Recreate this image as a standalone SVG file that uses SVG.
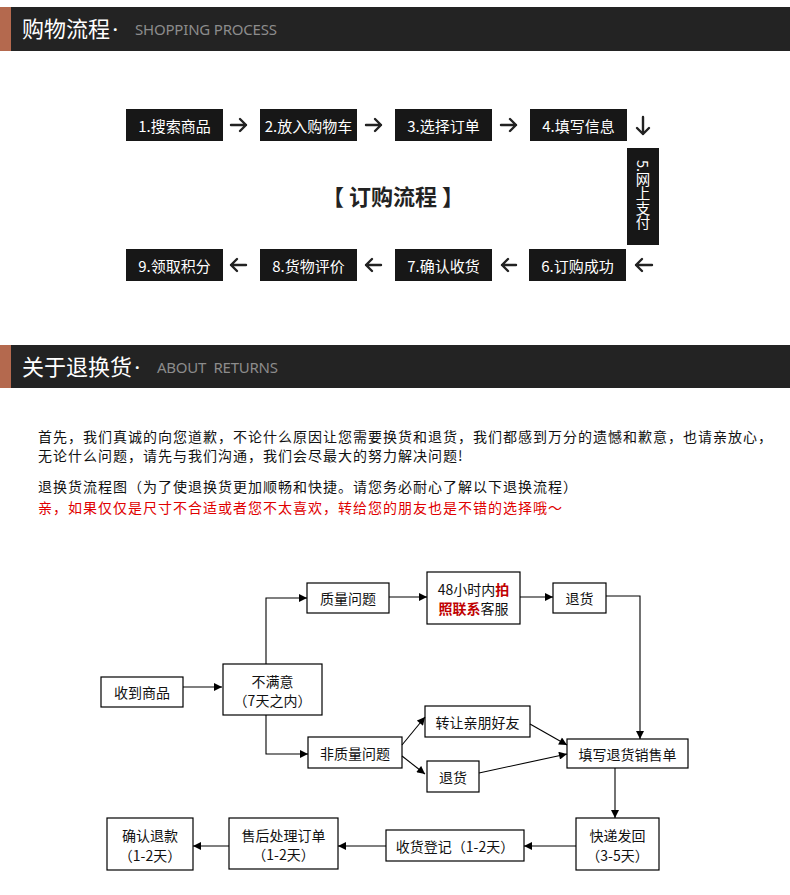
<svg xmlns="http://www.w3.org/2000/svg" width="790" height="895" viewBox="0 0 790 895">
<defs>
<marker id="ah" viewBox="0 0 10 10" refX="10" refY="5" markerWidth="9" markerHeight="8" markerUnits="userSpaceOnUse" orient="auto"><path d="M0,0 L10,5 L0,10 z" fill="#000"/></marker>
<style>
.cn{font-family:"Noto Sans CJK SC","Noto Sans",sans-serif}
.hbar{fill:#232323}
.acc{fill:#b4694e}
.htitle{font-family:"Noto Sans CJK SC","Noto Sans",sans-serif;font-size:22px;fill:#fff}
.dot{font-family:"Noto Sans",sans-serif;font-size:16px;font-weight:bold}
.hen{font-family:"Noto Sans","Noto Sans CJK SC",sans-serif;font-size:15px;fill:#8c8c8c}
.dbox{fill:#171717}
.dtxt{font-family:"Noto Sans CJK SC","Noto Sans",sans-serif;font-size:15px;fill:#fff;text-anchor:middle;dominant-baseline:central}
.vtxt{font-family:"Noto Sans CJK SC","Noto Sans",sans-serif;font-size:14.5px;fill:#fff;text-anchor:middle;writing-mode:vertical-rl}
.sarr{fill:none;stroke:#222;stroke-width:2.4;stroke-linecap:round;stroke-linejoin:round}
.para{font-family:"Noto Sans CJK SC","Noto Sans",sans-serif;font-size:14px;letter-spacing:1px;fill:#111}
.red{fill:#e00000}
.wbox{fill:#fff;stroke:#000;stroke-width:1.2}
.ftxt{font-family:"Noto Sans CJK SC","Noto Sans",sans-serif;font-size:14px;fill:#111;text-anchor:middle;dominant-baseline:central}
.hl{fill:#c00000;font-weight:bold}
.con{fill:none;stroke:#000;stroke-width:1.1}
</style>
</defs>
<rect width="790" height="895" fill="#fff"/>

<g id="header-shopping">
<rect class="hbar" x="0" y="7" width="790" height="44"/>
<rect class="acc" x="0" y="7" width="11" height="44"/>
<text class="htitle" x="22" y="37">购物流程<tspan class="dot" dx="3" dy="-2">·</tspan></text>
<text class="hen" x="135" y="35" textLength="142">SHOPPING PROCESS</text>
</g>

<g id="step1"><rect class="dbox" x="126" y="109" width="97" height="32"/><text class="dtxt" x="174.5" y="125">1.搜索商品</text></g>
<g id="step2"><rect class="dbox" x="260" y="109" width="97" height="32"/><text class="dtxt" x="308.5" y="125">2.放入购物车</text></g>
<g id="step3"><rect class="dbox" x="395" y="109" width="97" height="32"/><text class="dtxt" x="443.5" y="125">3.选择订单</text></g>
<g id="step4"><rect class="dbox" x="530" y="109" width="97" height="32"/><text class="dtxt" x="578.5" y="125">4.填写信息</text></g>
<g id="step5"><rect class="dbox" x="627" y="148" width="32" height="97"/>
<text class="vtxt" x="643" y="195">5.网上支付</text>
</g>
<g id="step6"><rect class="dbox" x="529" y="249" width="97" height="32"/><text class="dtxt" x="577.5" y="265">6.订购成功</text></g>
<g id="step7"><rect class="dbox" x="395" y="249" width="97" height="32"/><text class="dtxt" x="443.5" y="265">7.确认收货</text></g>
<g id="step8"><rect class="dbox" x="260" y="249" width="97" height="32"/><text class="dtxt" x="308.5" y="265">8.货物评价</text></g>
<g id="step9"><rect class="dbox" x="126" y="249" width="97" height="32"/><text class="dtxt" x="174.5" y="265">9.领取积分</text></g>
<g id="order-title"><text class="cn" x="393" y="205" text-anchor="middle" font-size="22" font-weight="bold" fill="#222">【 订购流程 】</text></g>

<g id="order-connectors">
<path class="sarr" d="M231,125 H246 M240,119 L246,125 L240,131"/>
<path class="sarr" d="M366,125 H381 M375,119 L381,125 L375,131"/>
<path class="sarr" d="M501,125 H516 M510,119 L516,125 L510,131"/>
<path class="sarr" d="M643,117 V134 M637,128 L643,134 L649,128"/>
<path class="sarr" d="M652,265 H636 M642,259 L636,265 L642,271"/>
<path class="sarr" d="M516,265 H502 M508,259 L502,265 L508,271"/>
<path class="sarr" d="M381,265 H366 M372,259 L366,265 L372,271"/>
<path class="sarr" d="M246,265 H231 M237,259 L231,265 L237,271"/>
</g>

<g id="header-returns">
<rect class="hbar" x="0" y="345" width="790" height="43"/>
<rect class="acc" x="0" y="345" width="11" height="43"/>
<text class="htitle" x="22" y="375">关于退换货<tspan class="dot" dx="3" dy="-2">·</tspan></text>
<text class="hen" x="157" y="373" textLength="121" xml:space="preserve">ABOUT  RETURNS</text>
</g>

<g id="intro-text">
<text class="para" x="38" y="441.5">首先，我们真诚的向您道歉，不论什么原因让您需要换货和退货，我们都感到万分的遗憾和歉意，也请亲放心，</text>
<text class="para" x="38" y="460.5">无论什么问题，请先与我们沟通，我们会尽最大的努力解决问题!</text>
<text class="para" x="38" y="491.5">退换货流程图（为了使退换货更加顺畅和快捷。请您务必耐心了解以下退换流程）</text>
<text class="para red" x="38" y="512.5">亲，如果仅仅是尺寸不合适或者您不太喜欢，转给您的朋友也是不错的选择哦～</text>
</g>

<g id="n-receive"><rect class="wbox" x="101" y="677" width="82" height="30"/><text class="ftxt" x="142" y="692">收到商品</text></g>
<g id="n-unsatisfied"><rect class="wbox" x="223" y="664" width="99" height="51"/><text class="ftxt" x="272.5" y="680.5">不满意</text><text class="ftxt" x="272.5" y="699.5">（7天之内）</text></g>
<g id="n-quality"><rect class="wbox" x="307" y="583" width="82" height="30"/><text class="ftxt" x="348" y="598">质量问题</text></g>
<g id="n-photo"><rect class="wbox" x="427" y="572" width="93" height="52"/><text class="ftxt" x="473.5" y="588.5">48小时内<tspan class="hl">拍</tspan></text><text class="ftxt" x="473.5" y="608"><tspan class="hl">照联系</tspan>客服</text></g>
<g id="n-return1"><rect class="wbox" x="553" y="583" width="53" height="30"/><text class="ftxt" x="579.5" y="598">退货</text></g>
<g id="n-transfer"><rect class="wbox" x="425" y="706" width="105" height="31"/><text class="ftxt" x="477.5" y="721.5">转让亲朋好友</text></g>
<g id="n-nonquality"><rect class="wbox" x="308" y="737" width="94" height="31"/><text class="ftxt" x="355" y="752.5">非质量问题</text></g>
<g id="n-return2"><rect class="wbox" x="427" y="761" width="52" height="31"/><text class="ftxt" x="453" y="776.5">退货</text></g>
<g id="n-form"><rect class="wbox" x="567" y="739" width="121" height="29"/><text class="ftxt" x="627.5" y="753.5">填写退货销售单</text></g>
<g id="n-ship"><rect class="wbox" x="576" y="818" width="83" height="52"/><text class="ftxt" x="617.5" y="835">快递发回</text><text class="ftxt" x="617.5" y="855">（3-5天）</text></g>
<g id="n-register"><rect class="wbox" x="386" y="830" width="138" height="31"/><text class="ftxt" x="455" y="845.5">收货登记（1-2天）</text></g>
<g id="n-process"><rect class="wbox" x="229" y="818" width="109" height="51"/><text class="ftxt" x="283.5" y="834.5">售后处理订单</text><text class="ftxt" x="283.5" y="854">（1-2天）</text></g>
<g id="n-refund"><rect class="wbox" x="107" y="818" width="86" height="52"/><text class="ftxt" x="150" y="835">确认退款</text><text class="ftxt" x="150" y="855">（1-2天）</text></g>

<g id="connectors">
<path class="con" marker-end="url(#ah)" d="M183,687 H222"/>
<path class="con" marker-end="url(#ah)" d="M266,664 V598 H307"/>
<path class="con" marker-end="url(#ah)" d="M266,715 V754 H308"/>
<path class="con" marker-end="url(#ah)" d="M389,597 H427"/>
<path class="con" marker-end="url(#ah)" d="M520,597 H553"/>
<path class="con" marker-end="url(#ah)" d="M606,596 H640 V739"/>
<path class="con" marker-end="url(#ah)" d="M402,745 L425,717"/>
<path class="con" marker-end="url(#ah)" d="M402,756 L425,774"/>
<path class="con" marker-end="url(#ah)" d="M530,724 L567,745"/>
<path class="con" marker-end="url(#ah)" d="M479,773 L567,754"/>
<path class="con" marker-end="url(#ah)" d="M615,768 V818"/>
<path class="con" marker-end="url(#ah)" d="M576,846 H524"/>
<path class="con" marker-end="url(#ah)" d="M386,846 H338"/>
<path class="con" marker-end="url(#ah)" d="M229,846 H193"/>
</g>
</svg>
